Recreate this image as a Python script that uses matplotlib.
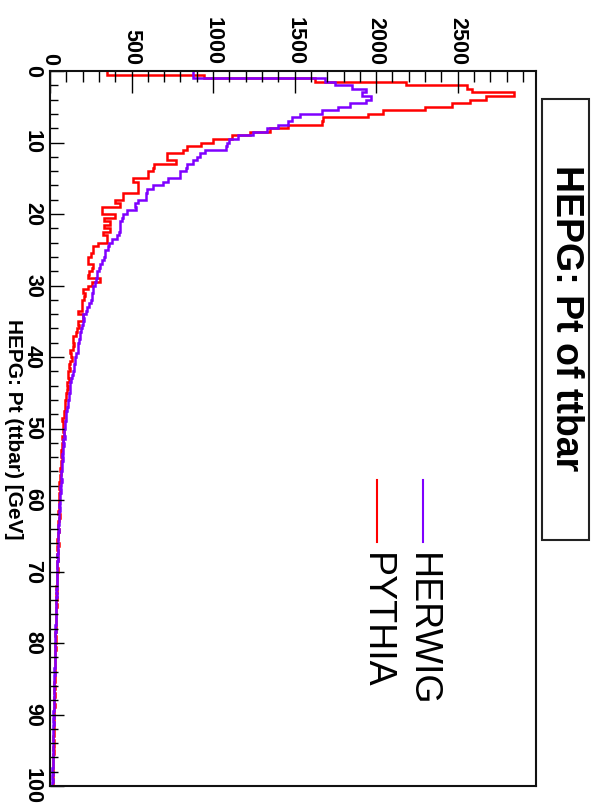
"""HEPG: Pt of ttbar -- HERWIG vs PYTHIA, drawn rotated like the original canvas."""

import matplotlib

matplotlib.use("Agg")
import matplotlib.pyplot as plt
import numpy as np
from matplotlib.lines import Line2D
from matplotlib.patches import Rectangle
from matplotlib.ticker import MultipleLocator

BIN_WIDTH = 0.5  # GeV, 200 bins from 0 to 100

# counts per 0.5 GeV bin
pythia = [
    350, 945, 1625, 2180, 2555, 2590, 2845, 2675, 2575, 2465,
    2300, 2040, 1950, 1675, 1670, 1460, 1350, 1225, 1115, 1000,
    925, 840, 815, 715, 715, 775, 635, 633, 600, 600,
    510, 540, 540, 540, 450, 450, 398, 429, 320, 317,
    400, 330, 370, 330, 368, 327, 347, 347, 296, 265,
    265, 250, 235, 235, 265, 255, 240, 230, 306, 255,
    230, 204, 215, 210, 194, 194, 194, 174, 204, 204,
    172, 180, 165, 160, 143, 143, 150, 140, 123, 128,
    133, 125, 118, 120, 112, 110, 115, 105, 108, 102,
    100, 98, 92, 92, 95, 88, 85, 72, 82, 80,
    80, 84, 74, 78, 72, 76, 70, 66, 72, 68,
    68, 63, 66, 60, 64, 58, 57, 62, 56, 55,
    58, 53, 57, 51, 62, 55, 50, 48, 56, 47,
    50, 45, 54, 44, 47, 43, 52, 42, 45, 48,
    41, 44, 40, 43, 38, 41, 39, 42, 37, 40,
    36, 39, 35, 38, 34, 37, 35, 33, 36, 34,
    32, 35, 31, 33, 30, 32, 29, 33, 28, 31,
    29, 27, 30, 26, 28, 27, 25, 28, 26, 24,
    26, 23, 25, 22, 24, 23, 21, 24, 22, 20,
    22, 19, 21, 18, 21, 17, 19, 18, 16, 19,
]
herwig = [
    876, 876, 1685, 1746, 1849, 1940, 1916, 1971, 1940, 1838,
    1765, 1665, 1532, 1483, 1460, 1400, 1330, 1245, 1150, 1100,
    1085, 1080, 950, 920, 900, 876, 840, 835, 800, 795,
    725, 695, 633, 595, 590, 590, 540, 521, 525, 470,
    449, 440, 432, 429, 429, 425, 410, 378, 360, 355,
    340, 337, 330, 318, 306, 300, 290, 286, 284, 275,
    265, 262, 256, 255, 250, 238, 225, 222, 204, 210,
    200, 194, 190, 184, 184, 176, 172, 174, 170, 160,
    155, 153, 150, 145, 138, 133, 130, 125, 123, 120,
    115, 118, 112, 108, 104, 101, 98, 96, 94, 90,
    88, 85, 90, 82, 84, 79, 81, 76, 78, 74,
    72, 75, 70, 68, 71, 66, 64, 67, 62, 60,
    61, 58, 59, 56, 57, 54, 55, 52, 53, 50,
    51, 48, 50, 47, 48, 45, 46, 44, 45, 43,
    44, 41, 42, 40, 41, 39, 40, 37, 38, 36,
    37, 35, 36, 34, 35, 33, 34, 31, 33, 31,
    32, 30, 31, 29, 30, 28, 29, 27, 28, 26,
    27, 25, 26, 24, 26, 23, 25, 22, 24, 21,
    23, 21, 22, 19, 21, 20, 18, 20, 19, 17,
    19, 17, 18, 16, 17, 15, 17, 14, 16, 15,
]
count_ticks = [0, 500, 1000, 1500, 2000, 2500]
pt_ticks = [0, 10, 20, 30, 40, 50, 60, 70, 80, 90, 100]
labels = ["HERWIG", "PYTHIA"]
colors = ["#7f00ff", "#ff0000"]
title = "HEPG: Pt of ttbar"
xlabel = "HEPG: Pt (ttbar) [GeV]"

FONT = ["Liberation Sans", "DejaVu Sans"]
W, H = 598, 811


def fx(px):
    return px / W


def fy(py):
    return 1.0 - py / H


fig = plt.figure(figsize=(W / 100, H / 100), dpi=100)
ax = fig.add_axes([fx(50), fy(786), fx(536) - fx(50), fy(71) - fy(786)])

edges = np.arange(len(pythia) + 1) * BIN_WIDTH
ax.stairs(pythia, edges, orientation="horizontal", baseline=None, color=colors[1], lw=1.8)
edges = np.arange(len(herwig) + 1) * BIN_WIDTH
ax.stairs(herwig, edges, orientation="horizontal", baseline=None, color=colors[0], lw=1.8)

ax.set_xlim(0, 2980)
ax.set_ylim(100, 0)
ax.xaxis.tick_top()
ax.set_xticks(count_ticks)
ax.xaxis.set_minor_locator(MultipleLocator(100))
ax.set_yticks(pt_ticks)
ax.yaxis.set_minor_locator(MultipleLocator(2))
ax.tick_params(axis="x", which="major", direction="in", length=16, width=1, pad=4,
               labelsize=15.5, labelrotation=-90, top=True, bottom=False)
ax.tick_params(axis="x", which="minor", direction="in", length=8, width=1, top=True, bottom=False)
ax.tick_params(axis="y", which="major", direction="in", length=10, width=1, pad=5,
               labelsize=15.5, labelrotation=-90, left=True, right=False)
ax.tick_params(axis="y", which="minor", direction="in", length=5.5, width=1, left=True, right=False)
for lab in ax.get_xticklabels() + ax.get_yticklabels():
    lab.set_family(FONT)
    lab.set_fontweight("bold")
for lab in ax.get_yticklabels():
    lab.set_va("center")
for sp in ax.spines.values():
    sp.set_linewidth(1.5)
    sp.set_color("#111111")

# axis title of the Pt axis
fig.text(fx(13), fy(429), xlabel, rotation=-90, ha="center", va="center",
         fontsize=15, fontweight="bold", family=FONT)

# title box
fig.add_artist(Rectangle((fx(542), fy(540)), fx(589) - fx(542), fy(99) - fy(540),
                         transform=fig.transFigure, fill=False, lw=1.5, ec="#222222"))
fig.text(fx(566), fy(318), title, rotation=-90, ha="center", va="center",
         fontsize=27, fontweight="bold", family=FONT)

# legend
for i, (lab, col) in enumerate(zip(labels, colors)):
    x0 = [423, 377][i]
    fig.add_artist(Line2D([fx(x0), fx(x0)], [fy(480), fy(542)], transform=fig.transFigure,
                          color=col, lw=1.5))
    fig.text(fx(x0 - 11), fy(553), lab, rotation=-90, rotation_mode="anchor",
             ha="left", va="baseline", fontsize=27, family=FONT)

fig.savefig("out.png", dpi=100)
